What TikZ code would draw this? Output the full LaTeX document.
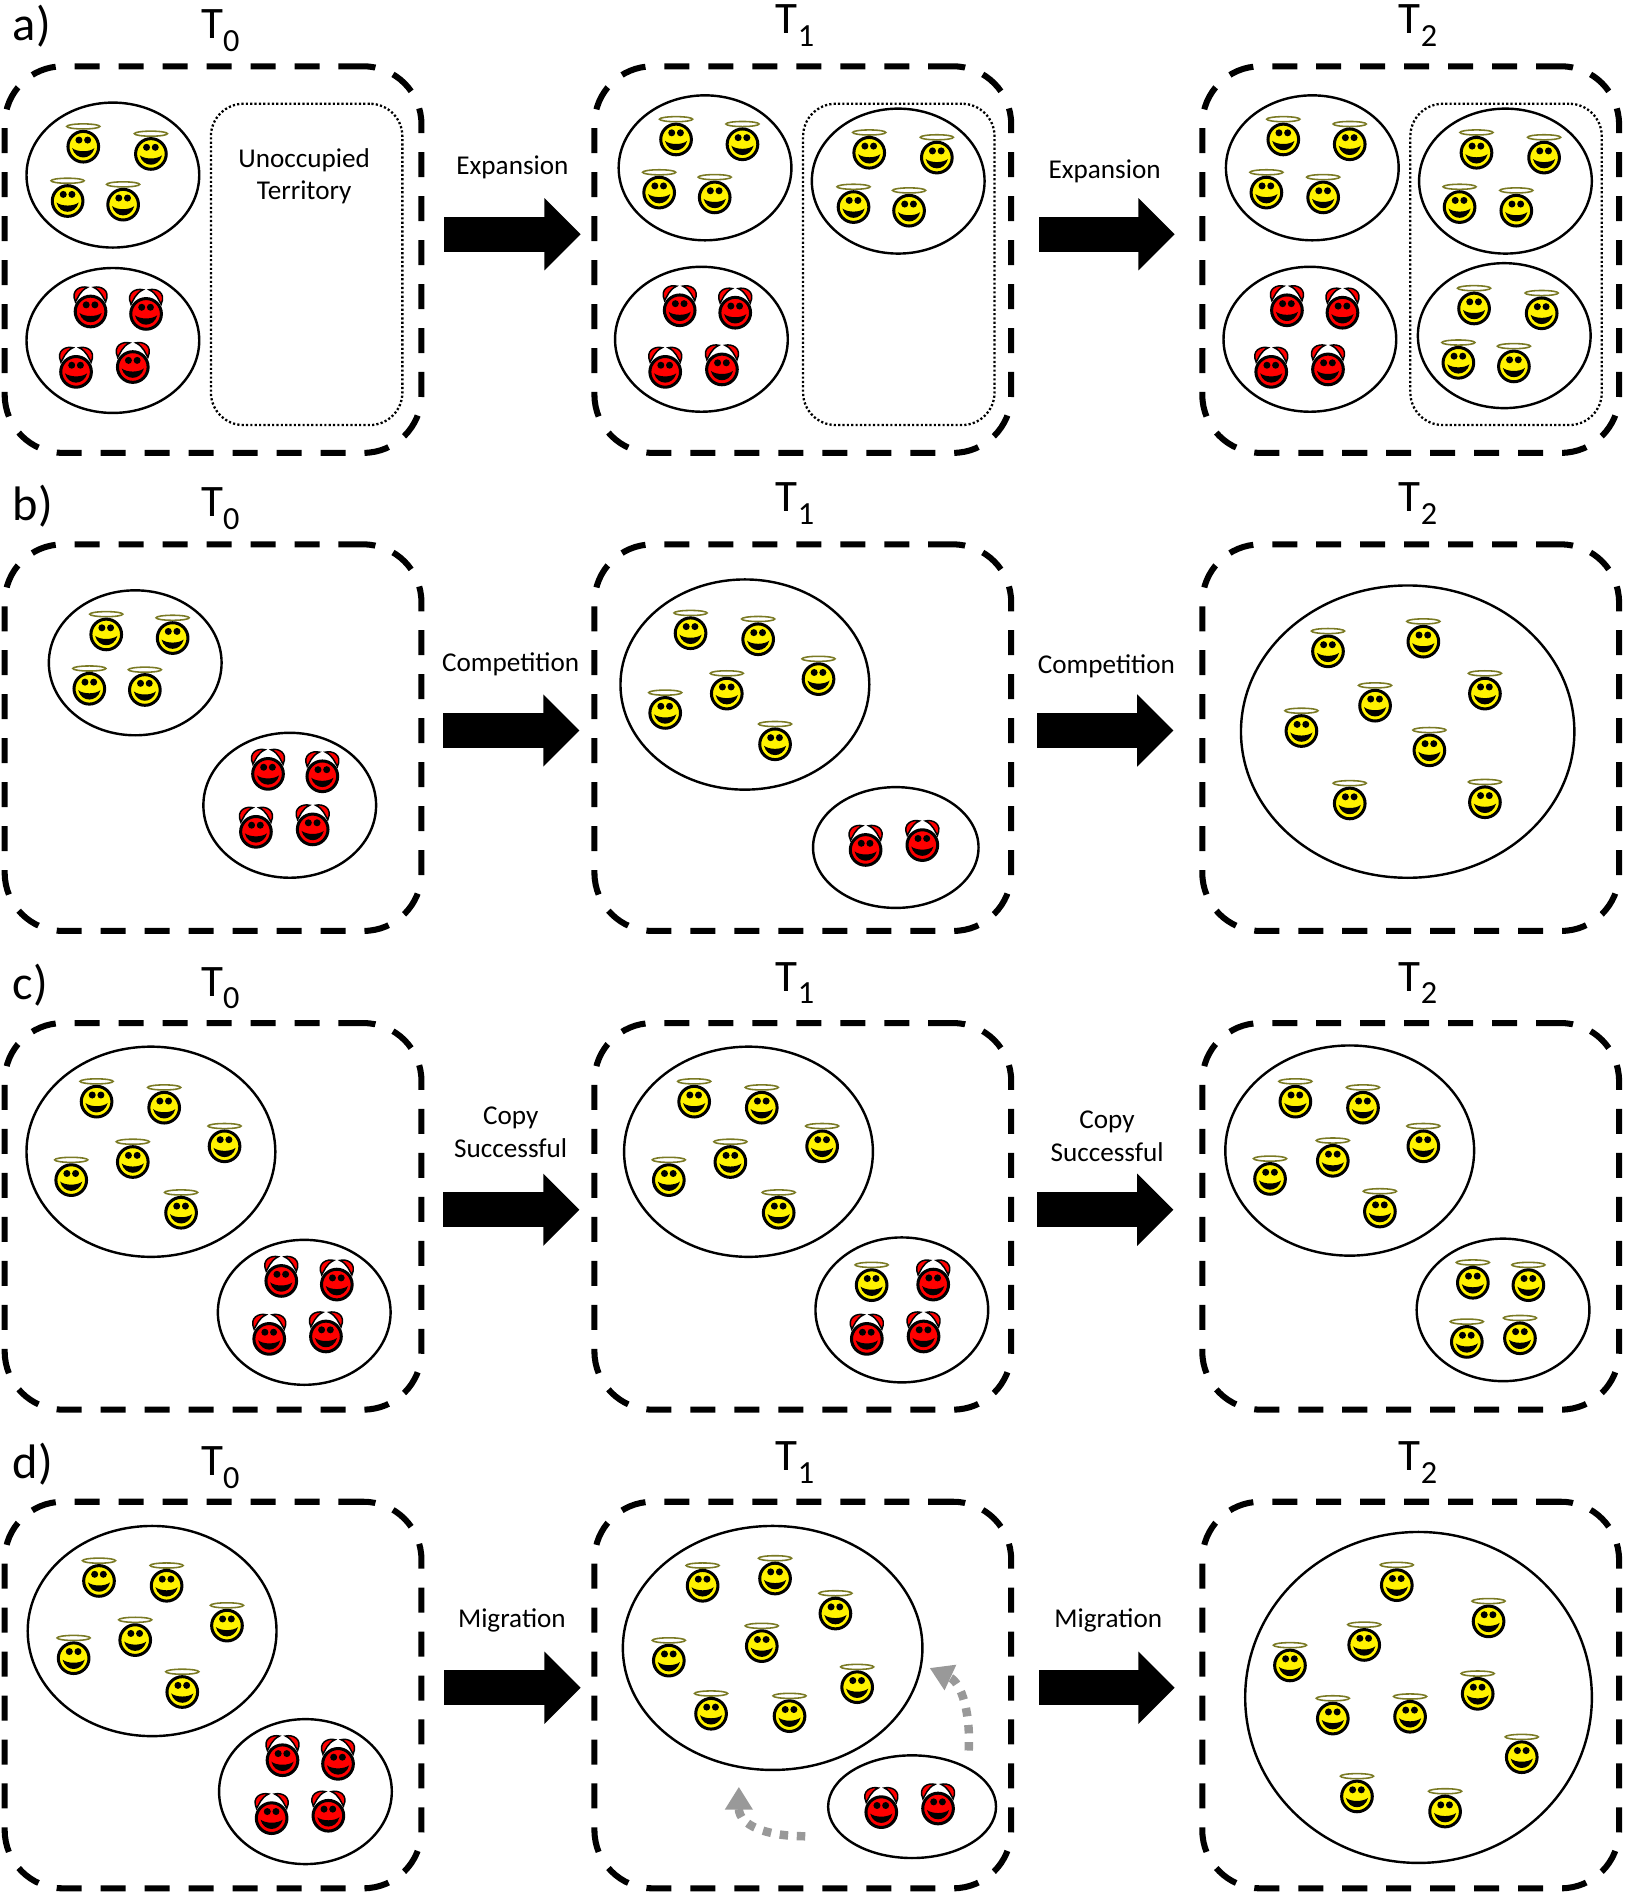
\documentclass[tikz,border=0pt]{standalone}
\usepackage{fontspec}
\setmainfont{Carlito}
\usepackage{xcolor}
\usetikzlibrary{arrows.meta,shapes.geometric}
\definecolor{haloline}{RGB}{122,122,36}
\definecolor{migrategray}{RGB}{153,153,153}
\newcommand{\stagelabel}[1]{T\raisebox{-3pt}{\fontsize{7.6}{8}\selectfont #1}}
\tikzset{
  field/.style={rectangle, rounded corners=0.48cm, draw=black, line width=0.05cm, dash pattern=on 0.207cm off 0.157cm, minimum width=3.45cm, minimum height=3.2cm},
  territory/.style={rectangle, rounded corners=0.27cm, draw=black, line width=0.019cm, dash pattern=on 0.018cm off 0.018cm, minimum width=1.585cm, minimum height=2.66cm},
  herd/.style 2 args={ellipse, draw=black, line width=0.02cm, inner sep=0pt, minimum width=#1, minimum height=#2},
  smallherd/.style={herd={1.43cm}{1.2cm}},
  midherd/.style={herd={2.06cm}{1.74cm}},
  flow/.style={line width=0.29cm, draw=black, -{Triangle[length=0.3cm,width=0.58cm]}},
  migrate/.style={line width=0.07cm, draw=migrategray, dash pattern=on 0.07cm off 0.072cm, -{Triangle[length=0.19cm,width=0.22cm,fill=migrategray]}},
  stage/.style={anchor=base west, inner sep=0pt, font=\fontsize{10.6}{12}\selectfont},
  panel/.style={anchor=base west, inner sep=0pt, font=\fontsize{11.4}{12}\selectfont},
  say/.style={inner sep=0pt, align=center, font=\fontsize{6.4}{7.65}\selectfont},
  face/.style={line width=0.025cm, draw=black},
  angel/.pic={
    \draw[haloline, fill=white, line width=0.013cm] (0,-16.8) ellipse (13.7 and 2.1);
    \draw[face, fill=yellow] (0,0) circle (12.7);
    \fill[black] (-3.6,-5.5) circle (2.9) (3.6,-5.5) circle (2.9);
    \fill[black] (-9.2,1.2) .. controls (-5,4.6) and (5,4.6) .. (9.2,1.2) .. controls (6.5,11.5) and (-6.5,11.5) .. cycle;
  },
  devil/.pic={
    \draw[fill=red, line width=0.012cm] (-2.5,-20) .. controls (-8,-21.5) and (-17,-18) .. (-12.5,-8) .. controls (-10.5,-11) and (-9,-17) .. cycle;
    \draw[fill=red, line width=0.012cm] (2.5,-20) .. controls (8,-21.5) and (17,-18) .. (12.5,-8) .. controls (10.5,-11) and (9,-17) .. cycle;
    \draw[face, fill=red] (0,0) circle (12.7);
    \fill[black] (-3.6,-5.5) circle (2.9) (3.6,-5.5) circle (2.9);
    \fill[black] (-9.2,1.2) .. controls (-5,4.6) and (5,4.6) .. (9.2,1.2) .. controls (6.5,11.5) and (-6.5,11.5) .. cycle;
  }
}
\begin{document}
\begin{tikzpicture}[x=0.01cm,y=-0.01cm]
  \useasboundingbox (0,0) rectangle (1346,1568);

  % row a
  \node[panel] (atag) at (10,33.5) {a)};
  \node[stage] (at0) at (166,32) {\stagelabel{0}};
  \node[stage] (at1) at (642,28) {\stagelabel{1}};
  \node[stage] (at2) at (1158,28) {\stagelabel{2}};
  \node[field] (a0) at (176.5,215) {};
  \node[field] (a1) at (665,215) {};
  \node[field] (a2) at (1168.5,215) {};
  \node[territory] (a0free) at (254,219) {};
  \node[territory] (a1free) at (744.5,219) {};
  \node[territory] (a2free) at (1247.5,219) {};
  \node[say] (a0say) at (252,146) {Unoccupied\\Territory};
  \node[smallherd] (a0up) at (93.5,145) {};
  \node[smallherd] (a0low) at (93.5,282) {};
  \node[smallherd] (a1up) at (584,139) {};
  \node[smallherd] (a1new) at (744,150) {};
  \node[smallherd] (a1low) at (581,281) {};
  \node[smallherd] (a2up) at (1087,139) {};
  \node[smallherd] (a2new) at (1247,150) {};
  \node[smallherd] (a2low) at (1085,281) {};
  \node[smallherd] (a2far) at (1246,278) {};
  \foreach \x/\y in {69/120,125/126,56/165,102/168,560/114,615/118,546/158,592/162,720/125,776/129,707/170,753/173,
    1063/114,1118/118,1049/158,1096/162,1223/125,1279/129,1209/170,1256/173,1221/254,1277/258,1208/299,1254/302}
    \pic at (\x,\y+1.5) {angel};
  \foreach \x/\y in {75/257,121/259,63/307,110/303,563/256,609/258,551/307,598/305,1066/256,1112/258,1053/307,1100/305}
    \pic at (\x,\y+1) {devil};
  \coordinate (aflow1s) at (368,194);
  \coordinate (aflow1e) at (481,194);
  \coordinate (aflow2s) at (861,194);
  \coordinate (aflow2e) at (973,194);
  \draw[flow] (aflow1s) -- (aflow1e);
  \draw[flow] (aflow2s) -- (aflow2e);
  \node[say] (aword1) at (424.5,139) {Expansion};
  \node[say] (aword2) at (915,142) {Expansion};

  % row b
  \node[panel] (btag) at (10,431) {b)};
  \node[stage] (bt0) at (166,428) {\stagelabel{0}};
  \node[stage] (bt1) at (642,424) {\stagelabel{1}};
  \node[stage] (bt2) at (1158,424) {\stagelabel{2}};
  \node[field] (b0) at (176.5,611) {};
  \node[field] (b1) at (665,611) {};
  \node[field] (b2) at (1168.5,611) {};
  \node[smallherd] (b0up) at (112,549) {};
  \node[smallherd] (b0low) at (240,667) {};
  \node[midherd] (b1up) at (617,567) {};
  \node[herd={1.37cm}{1cm}] (b1low) at (742,702) {};
  \node[herd={2.76cm}{2.42cm}] (b2all) at (1166,606) {};
  \foreach \x/\y in {88/524,143/527,74/569,120/570,572/523,628/528,678/561,602/573,551/589,642/615,
    1100/538,1179/530,1230/573,1139/583,1078/604,1184/620,1118/664,1230/663}
    \pic at (\x,\y+1.5) {angel};
  \foreach \x/\y in {222/640,267/642,212/688,259/686,717/703,764/699}
    \pic at (\x,\y+1) {devil};
  \coordinate (bflow1s) at (367,605);
  \coordinate (bflow1e) at (480,605);
  \coordinate (bflow2s) at (859,605);
  \coordinate (bflow2e) at (972,605);
  \draw[flow] (bflow1s) -- (bflow1e);
  \draw[flow] (bflow2s) -- (bflow2e);
  \node[say] (bword1) at (423,550) {Competition};
  \node[say] (bword2) at (916.5,552) {Competition};

  % row c
  \node[panel] (ctag) at (10,828) {c)};
  \node[stage] (ct0) at (166,825) {\stagelabel{0}};
  \node[stage] (ct1) at (642,821) {\stagelabel{1}};
  \node[stage] (ct2) at (1158,821) {\stagelabel{2}};
  \node[field] (c0) at (176.5,1007.5) {};
  \node[field] (c1) at (665,1007.5) {};
  \node[field] (c2) at (1168.5,1007.5) {};
  \node[midherd] (c0up) at (125,954) {};
  \node[smallherd] (c0low) at (252,1087) {};
  \node[midherd] (c1up) at (620,954) {};
  \node[smallherd] (c1low) at (747,1085) {};
  \node[midherd] (c2up) at (1118,953) {};
  \node[herd={1.43cm}{1.18cm}] (c2low) at (1245,1085) {};
  \foreach \x/\y in {80/911,136/916,186/948,110/961,59/976,150/1003,575/911,631/916,681/948,605/961,554/976,645/1003,722/1063,
    1073/911,1129/916,1179/948,1104/960,1052/975,1143/1002,1220/1061,1266/1063,1215/1110,1259/1107}
    \pic at (\x,\y+1.5) {angel};
  \foreach \x/\y in {233/1060,279/1063,223/1108,270/1106,773/1063,718/1108,765/1106}
    \pic at (\x,\y+1) {devil};
  \coordinate (cflow1s) at (367,1002);
  \coordinate (cflow1e) at (480,1002);
  \coordinate (cflow2s) at (859,1002);
  \coordinate (cflow2e) at (972,1002);
  \draw[flow] (cflow1s) -- (cflow1e);
  \draw[flow] (cflow2s) -- (cflow2e);
  \node[say] (cword1) at (423,938) {Copy\\Successful};
  \node[say] (cword2) at (917,941) {Copy\\Successful};

  % row d
  \node[panel] (dtag) at (10,1225) {d)};
  \node[stage] (dt0) at (166,1222) {\stagelabel{0}};
  \node[stage] (dt1) at (642,1218) {\stagelabel{1}};
  \node[stage] (dt2) at (1158,1218) {\stagelabel{2}};
  \node[field] (d0) at (176.5,1404) {};
  \node[field] (d1) at (665,1404) {};
  \node[field] (d2) at (1168.5,1404) {};
  \node[midherd] (d0up) at (126,1351) {};
  \node[smallherd] (d0low) at (253,1484) {};
  \node[herd={2.48cm}{2.02cm}] (d1up) at (640,1365) {};
  \node[herd={1.39cm}{0.85cm}] (d1low) at (755.5,1496.5) {};
  \node[herd={2.87cm}{2.74cm}] (d2all) at (1175,1406) {};
  \foreach \x/\y in {82/1308,138/1312,188/1345,112/1357,61/1372,151/1400,582/1312,642/1306,692/1335,631/1362,554/1374,589/1418,654/1420,710/1396,
    1157/1311.5,1233/1341.5,1130/1361,1068.5/1378,1224/1401.5,1104/1422,1168/1420.5,1260.5/1454,1124/1486.5,1197/1499}
    \pic at (\x,\y+1.5) {angel};
  \foreach \x/\y in {234/1457,280/1460,225/1505,272/1503,730/1500,777/1497}
    \pic at (\x,\y+1) {devil};
  \coordinate (dflow1s) at (368,1398);
  \coordinate (dflow1e) at (481,1398);
  \coordinate (dflow2s) at (861,1398);
  \coordinate (dflow2e) at (973,1398);
  \draw[flow] (dflow1s) -- (dflow1e);
  \draw[flow] (dflow2s) -- (dflow2e);
  \node[say] (dword1) at (424,1342) {Migration};
  \node[say] (dword2) at (918,1342) {Migration};

  % grey moves out of the small herd
  \coordinate (mig1s) at (802.4,1450);
  \coordinate (mig1e) at (770,1381.6);
  \coordinate (mig2s) at (667,1521);
  \coordinate (mig2e) at (612,1480);
  \draw[migrate] (mig1s) .. controls (804,1420) and (797,1394) .. (mig1e);
  \draw[migrate] (mig2s) .. controls (635,1521) and (612,1512) .. (mig2e);
\end{tikzpicture}
\end{document}
